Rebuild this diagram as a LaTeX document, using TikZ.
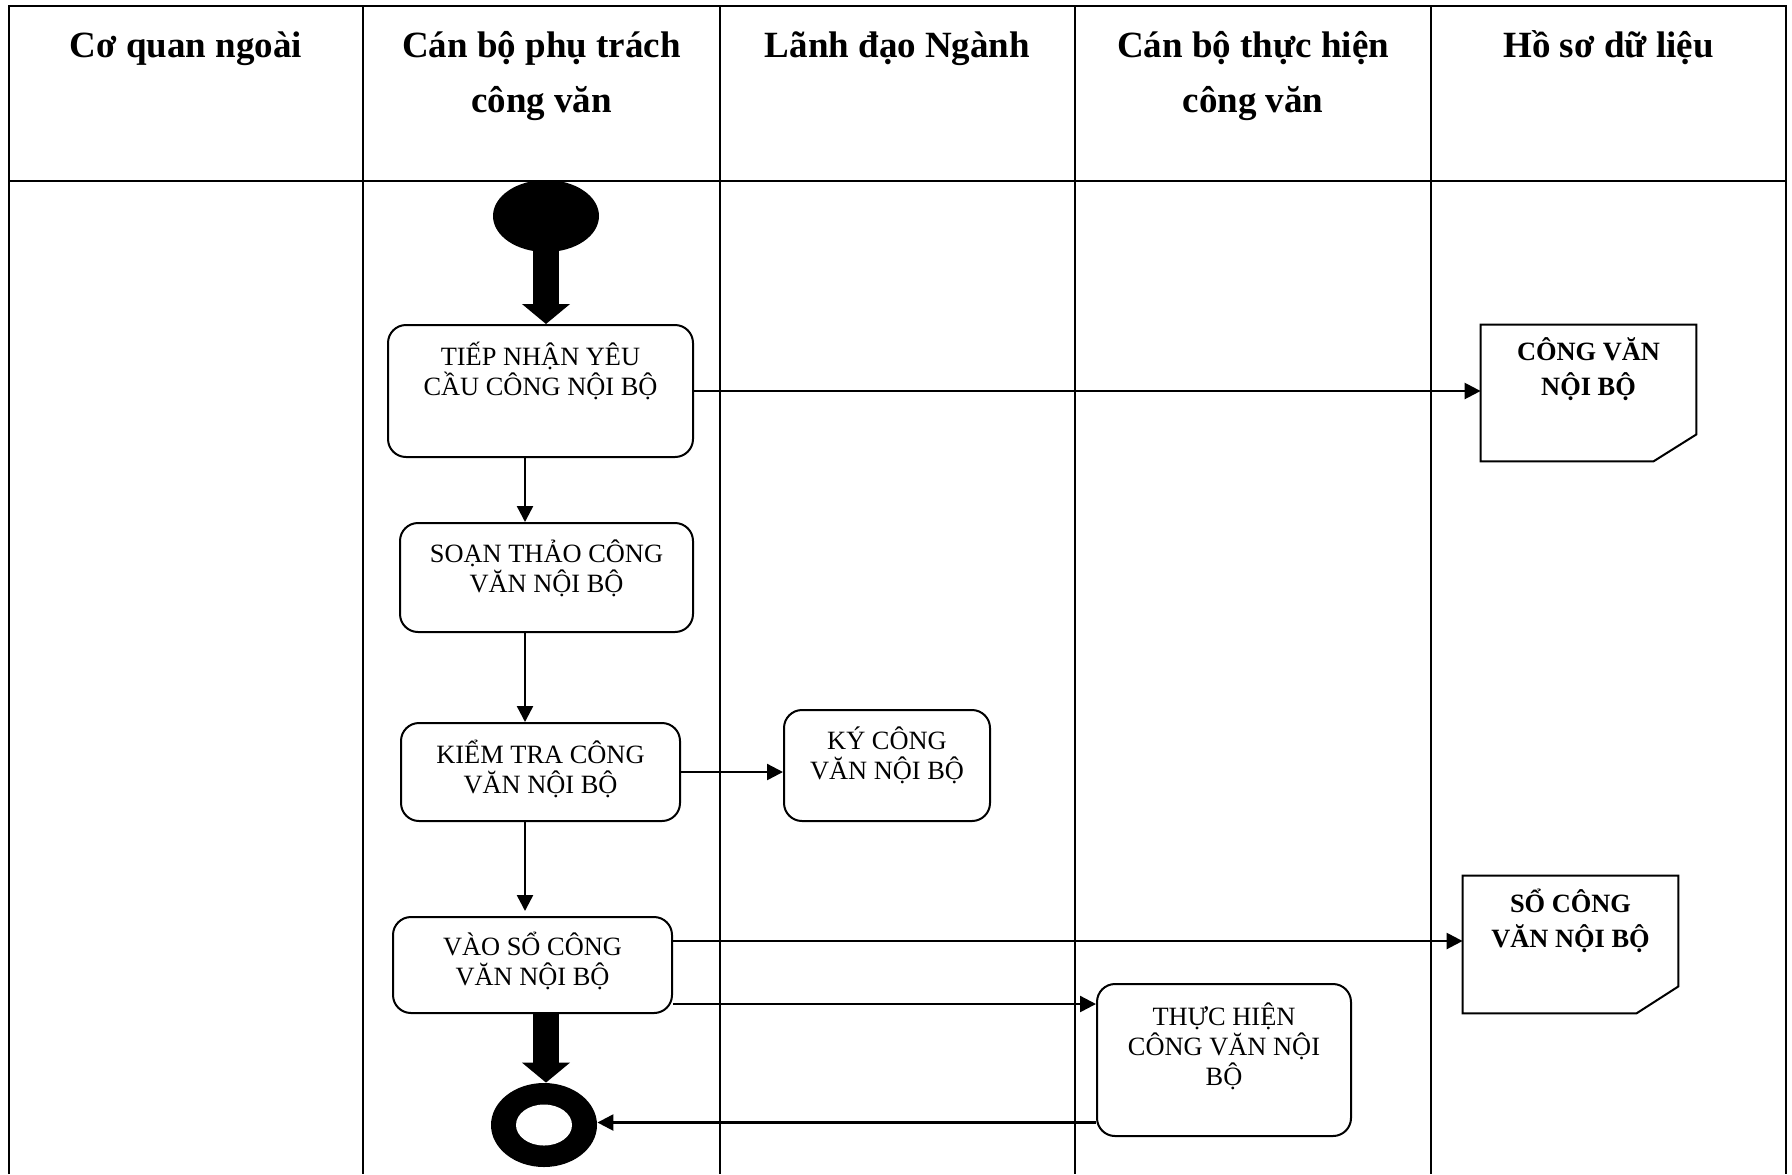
\documentclass[tikz,border=0pt]{standalone}
\usepackage{fontspec}
\setmainfont{Liberation Serif}
\usetikzlibrary{arrows.meta,shapes.geometric,calc}

\begin{document}
\begin{tikzpicture}[x=0.5pt,y=-0.5pt,
  frame/.style={line width=1.1pt},
  lane/.style={line width=0.7pt},
  hdr/.style={font=\fontsize{18.5}{27.5}\selectfont\bfseries, align=center, anchor=base, inner sep=0pt},
  stepbox/.style={draw, line width=1pt, rounded corners=9pt, inner sep=0pt},
  boxtext/.style={font=\fontsize{13.2}{15}\selectfont, align=center, inner sep=0pt},
  docshape/.style={inner sep=0pt, minimum width=107.5pt, minimum height=68pt},
  docline/.style={draw, line width=1pt, line join=miter},
  doctext/.style={font=\fontsize{13.2}{17.5}\selectfont\bfseries, align=center, inner sep=0pt},
  flow/.style={line width=1.2pt, -{Triangle[length=8pt,width=8pt]}},
  bigflow/.style={line width=13pt, -{Triangle[length=10pt,width=23.5pt]}},
  blackdot/.style={ellipse, fill=black, inner sep=0pt}
]
\useasboundingbox (0,0) rectangle (1792,1174);

% swimlane frame
\draw[frame] (9,1174) -- (9,6) -- (1786,6) -- (1786,1174);
\draw[frame] (9,181) -- (1786,181);
\foreach \x in {363,720,1075,1431} \draw[lane] (\x,6) -- (\x,1174);

% lane headers (base anchor sits on the last line)
\node[hdr] (h1) at (186,57) {Cơ quan ngoài};
\node[hdr] (h2) at (541.5,112) {Cán bộ phụ trách\\công văn};
\node[hdr] (h3) at (897.5,57) {Lãnh đạo Ngành};
\node[hdr] (h4) at (1253,112) {Cán bộ thực hiện\\công văn};
\node[hdr] (h5) at (1608.5,57) {Hồ sơ dữ liệu};

% initial and final states
\node[blackdot, minimum width=53pt, minimum height=36pt] (start) at (546,216) {};
\node[blackdot, minimum width=53pt, minimum height=42pt] (endn) at (544,1125) {};
\node[ellipse, fill=white, inner sep=0pt, minimum width=28pt, minimum height=20.5pt] (endin) at (endn.center) {};

% activities
\node[stepbox, minimum width=152.5pt, minimum height=66pt] (b1) at (540.5,391) {};
\node[boxtext] (t1) at ([yshift=9.8pt]b1.center) {TIẾP NHẬN YÊU\\CẦU CÔNG NỘI BỘ};

\node[stepbox, minimum width=146.5pt, minimum height=54.5pt] (b2) at (546.5,577.5) {};
\node[boxtext] (t2) at ([yshift=4.8pt]b2.center) {SOẠN THẢO CÔNG\\VĂN NỘI BỘ};

\node[stepbox, minimum width=139.5pt, minimum height=49pt] (b3) at (540.5,772) {};
\node[boxtext] (t3) at ([yshift=1.5pt]b3.center) {KIỂM TRA CÔNG\\VĂN NỘI BỘ};

\node[stepbox, minimum width=103pt, minimum height=55.5pt] (bk) at (887,765.5) {};
\node[boxtext] (tk) at ([yshift=5.2pt]bk.center) {KÝ CÔNG\\VĂN NỘI BỘ};

\node[stepbox, minimum width=139.5pt, minimum height=48pt] (b4) at (532.5,965) {};
\node[boxtext] (t4) at ([yshift=2pt]b4.center) {VÀO SỔ CÔNG\\VĂN NỘI BỘ};

\node[stepbox, minimum width=127pt, minimum height=76pt] (b6) at (1224,1060) {};
\node[boxtext] (t6) at ([yshift=6.8pt]b6.center) {THỰC HIỆN\\CÔNG VĂN NỘI\\BỘ};

% data documents with a cut corner
\node[docshape] (d1) at (1588.5,393) {};
\draw[docline] (d1.north west) -- (d1.north east) -- ([yshift=13.5pt]d1.south east)
  -- ([xshift=-21.5pt]d1.south east) -- (d1.south west) -- cycle;
\node[doctext] (td1) at ([yshift=12pt]d1.center) {CÔNG VĂN\\NỘI BỘ};

\node[docshape, minimum height=68.5pt] (d2) at (1570.5,944.5) {};
\draw[docline] (d2.north west) -- (d2.north east) -- ([yshift=13.5pt]d2.south east)
  -- ([xshift=-21pt]d2.south east) -- (d2.south west) -- cycle;
\node[doctext] (td2) at ([yshift=12pt]d2.center) {SỔ CÔNG\\VĂN NỘI BỘ};

% flows
\coordinate (spine) at (525,0);
\draw[bigflow] (start.center) -- (start.center |- b1.north);
\draw[flow] (b1.east) -- (b1.east -| d1.west);
\draw[flow] (b1.south -| spine) -- (b2.north -| spine);
\draw[flow] (b2.south -| spine) -- (b3.north -| spine);
\draw[flow] (b3.east) -- (b3.east -| bk.west);
\draw[flow] (b3.south -| spine) -- ([yshift=2.5pt]b4.north -| spine);
\draw[flow] ([yshift=1.75pt]b4.east |- d2.west) -- ([yshift=1.75pt]d2.west);
\draw[flow] ([yshift=-19.5pt]b4.east) -- ([yshift=-19.5pt]b4.east -| b6.west);
\draw[bigflow] (b4.south -| 546,0) -- (546,0 |- endn.north);
\draw[flow] ([yshift=1.25pt]b6.west |- endn.east) -- ([yshift=1.25pt]endn.east);
\end{tikzpicture}
\end{document}
